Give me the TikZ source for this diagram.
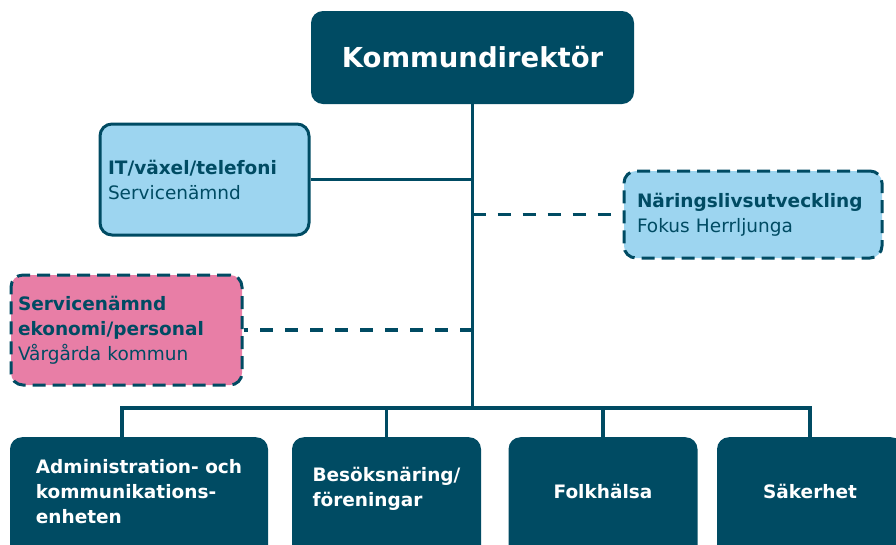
\documentclass[tikz,border=0pt]{standalone}
\usepackage{fontspec}
\setmainfont{DejaVu Sans}
\definecolor{boxdark}{RGB}{0,75,99}
\definecolor{boxlight}{RGB}{157,213,240}
\definecolor{boxpink}{RGB}{232,126,166}

\begin{document}
\begin{tikzpicture}[x=1pt,y=-1pt,
  head/.style={fill=boxdark,rounded corners=12pt,text=white,
    font=\bfseries\fontsize{27.5}{32}\selectfont,minimum width=323pt,minimum height=93pt},
  staff/.style={draw=boxdark,line width=3pt,rounded corners=12pt,text=boxdark,
    align=left,font=\fontsize{18.5}{25}\selectfont},
  outside/.style={staff,dash pattern=on 13pt off 7pt},
  unit/.style={fill=boxdark,rounded corners=12pt,minimum height=130pt,anchor=north},
  unittext/.style={text=white,align=left,font=\bfseries\fontsize{18.5}{25}\selectfont},
  conn/.style={draw=boxdark,line width=3.3pt},
  dconn/.style={conn,dash pattern=on 13pt off 12pt}]
\useasboundingbox (0,0) rectangle (896,544);
\clip (0,0) rectangle (896,544);

\node [head] (kd) at (472.5,57.5) {Kommundirektör};

\node [staff,fill=boxlight,minimum height=111pt,inner xsep=8pt,text width=193pt] (it)
  at (204.5,179.5) {\textbf{IT/växel/telefoni}\\Servicenämnd};
\node [outside,fill=boxlight,minimum height=87pt,inner xsep=13pt,text width=232pt] (nar)
  at (753,214.5) {\textbf{Näringslivsutveckling}\\Fokus Herrljunga};
\node [outside,fill=boxpink,minimum height=110pt,inner xsep=7pt,text width=217pt] (pink)
  at (126.5,330) {\textbf{Servicenämnd}\\\textbf{ekonomi/personal}\\Vårgårda kommun};

% enheter
\node [unit,minimum width=258pt] (adm) at (139,437) {};
\node [unit,minimum width=189pt] (bes) at (386.5,437) {};
\node [unit,minimum width=189pt] (folk) at (603,437) {};
\node [unit,minimum width=186pt] (sak) at (810,437) {};
\node [unittext] (admtext) at ([yshift=11pt]adm.center) {Administration- och\\kommunikations-\\enheten};
\node [unittext] (bestext) at ([yshift=13pt]bes.center) {Besöksnäring/\\föreningar};
\node [unittext] (folktext) at ([yshift=11pt]folk.center) {Folkhälsa};
\node [unittext] (saktext) at ([yshift=11pt]sak.center) {Säkerhet};

\coordinate (bus) at (kd.south |- 0,408);
\draw [conn] (kd.south) -- (bus);
\draw [conn] (it.east) -- (it.east -| kd.south);
\draw [dconn] (nar.west -| kd.south) -- (nar.west);
\draw [dconn] (pink.east -| kd.south) -- (pink.east);
\draw [conn] ([xshift=-17pt]adm.north) |- (sak.north |- bus) -- (sak.north);
\draw [conn] (bes.north) -- (bes.north |- bus);
\draw [conn] (folk.north) -- (folk.north |- bus);
\end{tikzpicture}
\end{document}
